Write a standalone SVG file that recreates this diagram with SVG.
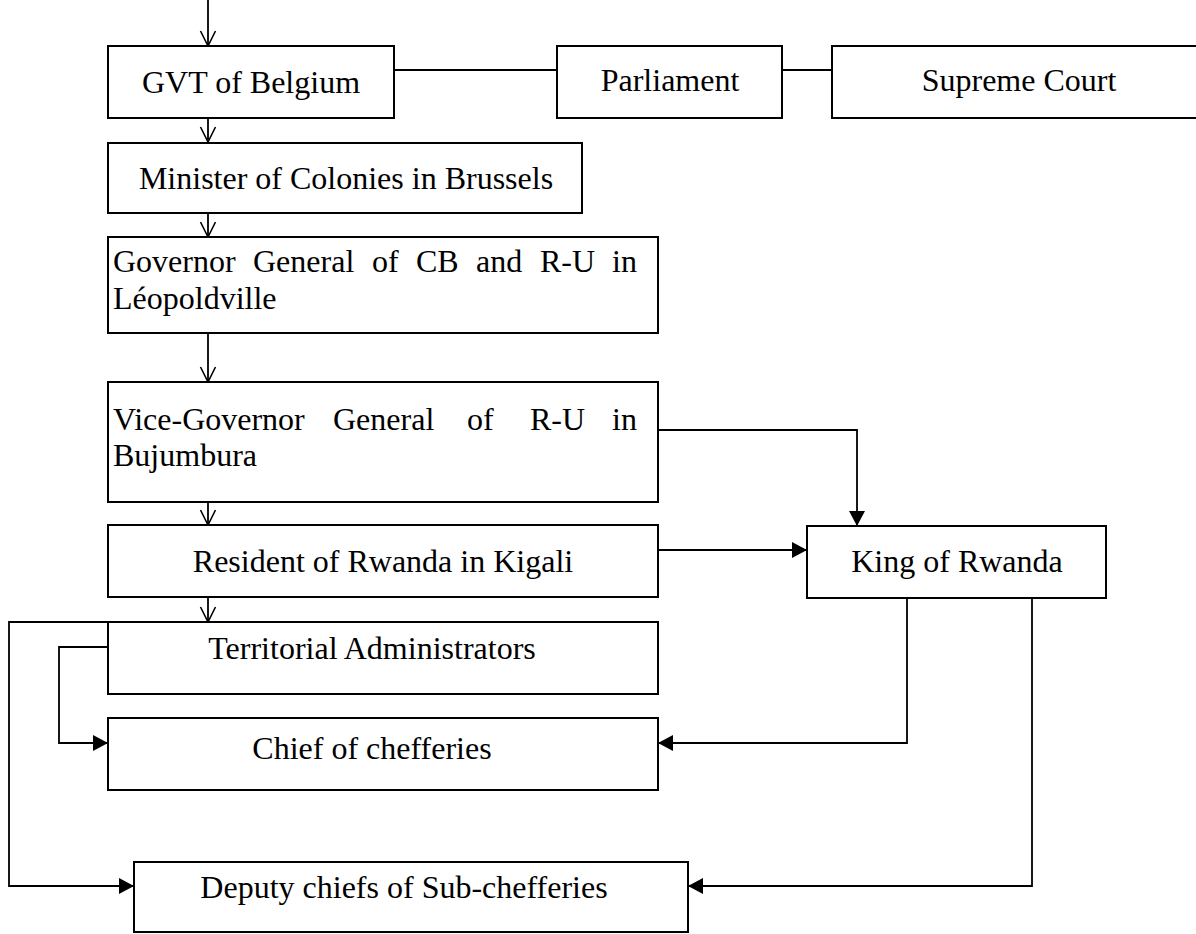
<svg xmlns="http://www.w3.org/2000/svg" width="1196" height="934" viewBox="0 0 1196 934">
<style>
.box{fill:#fff;stroke:#000;stroke-width:2}
.t{font-family:"Liberation Serif","Times New Roman",serif;font-size:32px;fill:#000}
.c{text-anchor:middle}
.ln{fill:none;stroke:#000;stroke-width:1.8}
</style>
<defs>
<marker id="open" markerUnits="userSpaceOnUse" viewBox="-16 -9 18 18" markerWidth="18" markerHeight="18" refX="0" refY="0" orient="auto">
<path d="M-15,-7.5 L0,0 L-15,7.5" fill="none" stroke="#000" stroke-width="1.6"/>
</marker>
<marker id="fill" markerUnits="userSpaceOnUse" viewBox="-16 -9 18 18" markerWidth="18" markerHeight="18" refX="0" refY="0" orient="auto">
<path d="M-15,-8 L0,0 L-15,8 Z" fill="#000"/>
</marker>
</defs>
<rect width="1196" height="934" fill="#fff"/>
<g id="connectors">
<line class="ln" x1="208" y1="0" x2="208" y2="46" marker-end="url(#open)"/>
<line class="ln" x1="208" y1="118" x2="208" y2="142" marker-end="url(#open)"/>
<line class="ln" x1="208" y1="213" x2="208" y2="237" marker-end="url(#open)"/>
<line class="ln" x1="208" y1="333" x2="208" y2="382" marker-end="url(#open)"/>
<line class="ln" x1="208" y1="502" x2="208" y2="525" marker-end="url(#open)"/>
<line class="ln" x1="208" y1="597" x2="208" y2="622" marker-end="url(#open)"/>
<line class="ln" x1="394" y1="70" x2="557" y2="70"/>
<line class="ln" x1="782" y1="70" x2="832" y2="70"/>
<polyline class="ln" points="658,430 857,430 857,526" marker-end="url(#fill)"/>
<line class="ln" x1="658" y1="550" x2="807" y2="550" marker-end="url(#fill)"/>
<polyline class="ln" points="907,598 907,743 658,743" marker-end="url(#fill)"/>
<polyline class="ln" points="1032,598 1032,886 688,886" marker-end="url(#fill)"/>
<polyline class="ln" points="108,647 59,647 59,743 108,743" marker-end="url(#fill)"/>
<polyline class="ln" points="108,622 9,622 9,886 134,886" marker-end="url(#fill)"/>
</g>
<g id="gvt"><rect class="box" x="108" y="46" width="286" height="72"/><text class="t c" x="251" y="93">GVT of Belgium</text></g>
<g id="parliament"><rect class="box" x="557" y="46" width="225" height="72"/><text class="t c" x="670" y="91">Parliament</text></g>
<g id="supreme-court"><rect class="box" x="832" y="46" width="374" height="72"/><text class="t c" x="1019" y="91">Supreme Court</text></g>
<g id="minister"><rect class="box" x="108" y="143" width="474" height="70"/><text class="t c" x="346" y="189">Minister of Colonies in Brussels</text></g>
<g id="governor"><rect class="box" x="108" y="237" width="550" height="96"/>
<text class="t" y="272"><tspan x="113">Governor</tspan><tspan x="253">General</tspan><tspan x="372">of</tspan><tspan x="416">CB</tspan><tspan x="476">and</tspan><tspan x="540">R-U</tspan><tspan x="612">in</tspan></text>
<text class="t" x="113" y="309">Léopoldville</text></g>
<g id="vice-governor"><rect class="box" x="108" y="382" width="550" height="120"/>
<text class="t" y="430"><tspan x="113">Vice-Governor</tspan><tspan x="333">General</tspan><tspan x="467">of</tspan><tspan x="530">R-U</tspan><tspan x="612">in</tspan></text>
<text class="t" x="113" y="466">Bujumbura</text></g>
<g id="resident"><rect class="box" x="108" y="525" width="550" height="72"/><text class="t c" x="383" y="572">Resident of Rwanda in Kigali</text></g>
<g id="king"><rect class="box" x="807" y="526" width="299" height="72"/><text class="t c" x="957" y="572">King of Rwanda</text></g>
<g id="territorial"><rect class="box" x="108" y="622" width="550" height="72"/><text class="t c" x="372" y="659">Territorial Administrators</text></g>
<g id="chief"><rect class="box" x="108" y="718" width="550" height="72"/><text class="t c" x="372" y="759">Chief of chefferies</text></g>
<g id="deputy"><rect class="box" x="134" y="862" width="554" height="70"/><text class="t c" x="404" y="898">Deputy chiefs of Sub-chefferies</text></g>
</svg>
